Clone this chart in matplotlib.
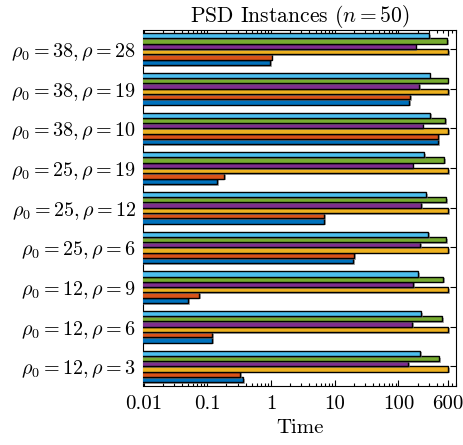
import numpy as np
import matplotlib
matplotlib.use("Agg")
import matplotlib.pyplot as plt
import matplotlib.patheffects as pe
from matplotlib.ticker import FixedLocator, FixedFormatter, LogLocator, NullFormatter

plt.rcParams["font.family"] = "serif"
plt.rcParams["font.serif"] = ["cmr10"]
plt.rcParams["mathtext.fontset"] = "cm"
plt.rcParams["axes.formatter.use_mathtext"] = True

# groups, bottom to top
rho0 = [12, 12, 12, 25, 25, 25, 38, 38, 38]
rho = [3, 6, 9, 6, 12, 19, 10, 19, 28]
labels = [rf"$\rho_0 = {a}, \rho = {b}$" for a, b in zip(rho0, rho)]

# six methods, bottom bar to top bar within each group
s1 = [0.37, 0.118, 0.050, 19.4, 6.8, 0.142, 418, 149, 0.98]
s2 = [0.33, 0.118, 0.074, 20.4, 6.9, 0.183, 425, 152, 1.02]
s3 = [600, 600, 600, 600, 600, 600, 600, 600, 600]
s4 = [143, 163, 169, 218, 226, 168, 240, 210, 187]
s5 = [434, 483, 508, 566, 558, 527, 546, 593, 587]
s6 = [221, 226, 203, 295, 274, 252, 313, 308, 302]
series = [s1, s2, s3, s4, s5, s6]
colors = ["#0072BD", "#D95319", "#EDB120", "#7E2F8E", "#77AC30", "#4DBEEE"]

xticks = [0.01, 0.1, 1, 10, 100, 600]
xticklabels = ["0.01", "0.1", "1", "10", "100", "600"]

fig = plt.figure(figsize=(4.64, 4.45), dpi=100)
ax = fig.add_axes([143.5 / 464, 1 - 385.5 / 445, 312.5 / 464, 355.5 / 445])

n = len(series)
h = 0.8 / n
y = np.arange(len(labels))
shadow = [pe.SimplePatchShadow(offset=(1.2, -1.2), shadow_rgbFace="0.45", alpha=0.6), pe.Normal()]
for i, (vals, c) in enumerate(zip(series, colors)):
    bars = ax.barh(y - 0.4 + h * (i + 0.5), vals, height=h, left=0.0001,
                   color=c, edgecolor="black", linewidth=1.0, zorder=3)
    for b in bars:
        b.set_path_effects(shadow)

ax.set_xscale("log")
ax.set_xlim(0.01, 800)
ax.set_ylim(-0.48, len(labels) - 0.52)
ax.xaxis.set_major_locator(FixedLocator(xticks))
ax.xaxis.set_major_formatter(FixedFormatter(xticklabels))
ax.xaxis.set_minor_locator(LogLocator(base=10, subs=np.arange(2, 10), numticks=20))
ax.xaxis.set_minor_formatter(NullFormatter())
ax.set_yticks(y)
ax.set_yticklabels(labels)
ax.tick_params(axis="both", which="both", direction="in", top=True, right=True, width=0.8)
ax.tick_params(axis="x", labelsize=15, pad=7)
ax.tick_params(axis="y", labelsize=14.5, pad=5)
ax.tick_params(axis="both", which="major", length=4)
ax.tick_params(axis="x", which="minor", length=2)
for s in ax.spines.values():
    s.set_linewidth(0.8)
ax.set_xlabel("Time", fontsize=15, labelpad=4)
ax.set_title(r"PSD Instances ($n = 50$)", fontsize=15.5, pad=3)

fig.savefig("out.png", dpi=100)
